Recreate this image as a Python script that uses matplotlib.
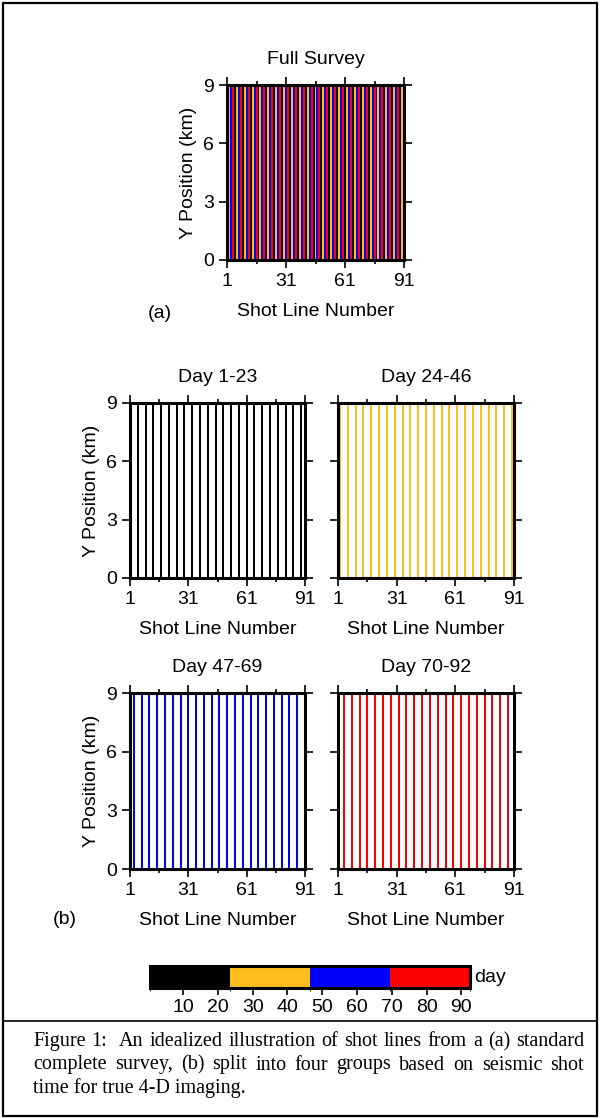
import numpy as np
import matplotlib
matplotlib.use("Agg")
import matplotlib.pyplot as plt
from matplotlib.colors import ListedColormap, BoundaryNorm
from matplotlib.cm import ScalarMappable
from matplotlib.patches import Rectangle
from matplotlib.lines import Line2D

plt.rcParams["font.family"] = ["Liberation Sans", "DejaVu Sans"]

# shot groups: day range, colour and the shot lines acquired in it
group_titles = ["Day 1-23", "Day 24-46", "Day 47-69", "Day 70-92"]
group_colors = ["#000000", "#FFBE1E", "#0000FF", "#FF0000"]
group_lines = [
    [1, 5, 9, 13, 17, 21, 25, 29, 33, 37, 41, 45, 49, 53, 57, 61, 65, 69, 73, 77, 81, 85, 89],
    [2, 6, 10, 14, 18, 22, 26, 30, 34, 38, 42, 46, 50, 54, 58, 62, 66, 70, 74, 78, 82, 86, 90],
    [3, 7, 11, 15, 19, 23, 27, 31, 35, 39, 43, 47, 51, 55, 59, 63, 67, 71, 75, 79, 83, 87, 91],
    [4, 8, 12, 16, 20, 24, 28, 32, 36, 40, 44, 48, 52, 56, 60, 64, 68, 72, 76, 80, 84, 88, 92],
]
day_bounds = [0.5, 23.5, 46.5, 69.5, 92.5]
day_ticks = [10, 20, 30, 40, 50, 60, 70, 80, 90]
y_extent = [0, 9]
x_ticks = [1, 31, 61, 91]
x_minor = [16, 46, 76]
y_ticks = [0, 3, 6, 9]

W, H = 600, 1119
FS = 14


def rect(l, t, r, b):
    return [l / W, 1 - b / H, (r - l) / W, (b - t) / H]


def survey_axes(ax, title, ylab=True, ylabels=True):
    ax.set_xlim(1, 91)
    ax.set_ylim(0, 9)
    ax.set_xticks(x_ticks)
    ax.set_xticks(x_minor, minor=True)
    ax.set_yticks(y_ticks)
    ax.tick_params(which="both", direction="out", top=True, right=True,
                   labelsize=FS, width=1.2, pad=4)
    ax.tick_params(which="major", length=5.5)
    ax.tick_params(which="minor", length=2.8)
    if not ylabels:
        ax.tick_params(labelleft=False)
    for s in ax.spines.values():
        s.set_linewidth(2.2)
    ax.set_title(title, fontsize=FS, pad=15)
    ax.set_xlabel("Shot Line Number", fontsize=FS, labelpad=9)
    if ylab:
        ax.set_ylabel("Y Position (km)", fontsize=FS, labelpad=4)


fig = plt.figure(figsize=(W / 100, H / 100), dpi=100)

# (a) full survey, all groups together
ax = fig.add_axes(rect(227, 85, 404, 260))
for lines, c in zip(group_lines, group_colors):
    ax.vlines(lines, y_extent[0], y_extent[1], colors=c, lw=1.45)
survey_axes(ax, "Full Survey")
fig.text(160 / W, 1 - 313 / H, "(a)", fontsize=FS, ha="center", va="center")

# (b) one panel per time group
panel_rects = [(130, 403, 305, 578), (338, 403, 514, 578),
               (130, 693, 305, 869), (338, 693, 514, 869)]
for i, (title, c, lines) in enumerate(zip(group_titles, group_colors, group_lines)):
    ax = fig.add_axes(rect(*panel_rects[i]))
    ax.vlines(lines, y_extent[0], y_extent[1], colors=c, lw=1.45)
    left = i % 2 == 0
    survey_axes(ax, title, ylab=left, ylabels=left)
fig.text(65 / W, 1 - 919 / H, "(b)", fontsize=FS, ha="center", va="center")

# day colour bar
cax = fig.add_axes(rect(150, 966, 470, 988))
cmap = ListedColormap(group_colors)
norm = BoundaryNorm(day_bounds, cmap.N)
cb = fig.colorbar(ScalarMappable(norm=norm, cmap=cmap), cax=cax,
                  orientation="horizontal", ticks=day_ticks)
cb.outline.set_linewidth(2.2)
cax.tick_params(direction="out", length=5, width=1.2, labelsize=FS, pad=3)
cax.set_xticklabels([str(t) for t in day_ticks])
fig.text(474 / W, 1 - 978 / H, "day", fontsize=FS, ha="left", va="center")

# frame and caption separator
fig.add_artist(Rectangle((3 / W, 3 / H), 594 / W, 1 - 6 / H, transform=fig.transFigure,
                         fill=False, lw=1.6, ec="black"))
fig.add_artist(Line2D([3 / W, 597 / W], [1 - 1021 / H, 1 - 1021 / H],
                      transform=fig.transFigure, lw=1.2, color="black"))

caption = [
    "Figure 1:  An idealized illustration of shot lines from a (a) standard",
    "complete survey, (b) split into four groups based on seismic shot",
    "time for true 4-D imaging.",
]
cap_kw = dict(fontsize=14.5, family=["Liberation Serif", "DejaVu Serif"], va="baseline")
renderer = fig.canvas.get_renderer()
x0, x1 = 33, 584
for k, line in enumerate(caption):
    yb = 1 - (1046 + 23.5 * k) / H
    if k == len(caption) - 1:
        fig.text(x0 / W, yb, line, ha="left", **cap_kw)
        continue
    # spread the words so both ends of the line are flush
    words = line.split(" ")
    texts = [fig.text(0, yb, w, ha="left", **cap_kw) for w in words if w]
    widths = [t.get_window_extent(renderer).width for t in texts]
    gaps = [1 + (words[j] == "") for j in range(1, len(words)) if words[j - 1] != ""]
    unit = ((x1 - x0) - sum(widths)) / sum(gaps)
    x = x0
    for j, (t, w) in enumerate(zip(texts, widths)):
        t.set_x(x / W)
        if j < len(gaps):
            x += w + unit * gaps[j]

fig.savefig("out.png", dpi=100)
